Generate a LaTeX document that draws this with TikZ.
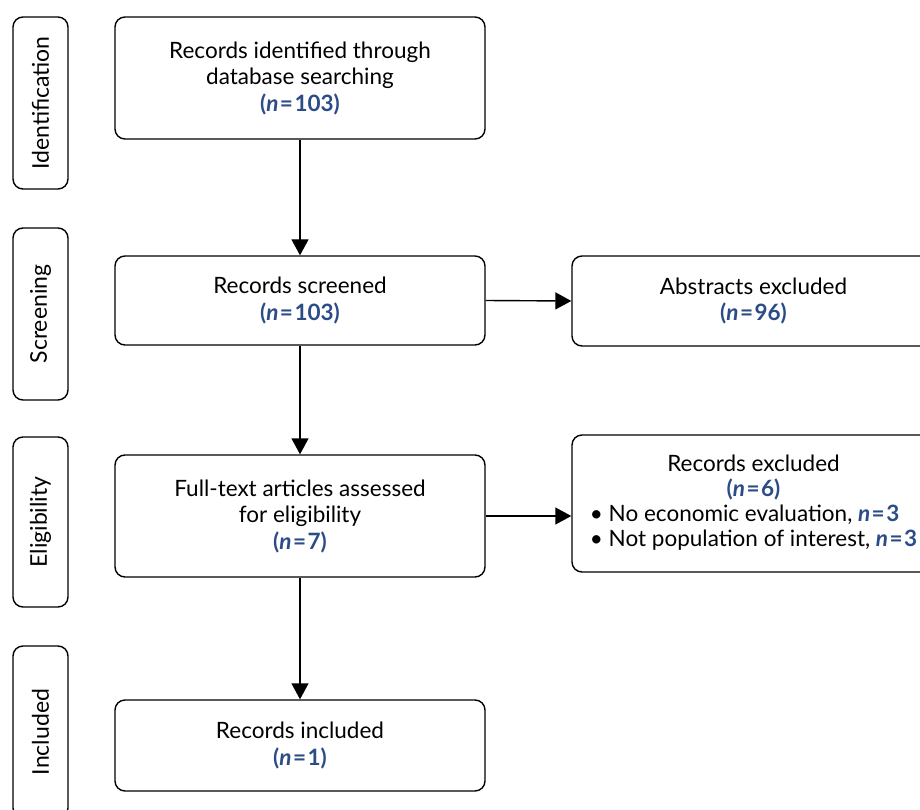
\documentclass[tikz,border=0pt]{standalone}
\usepackage{fontspec}
\setmainfont{Lato}
\usetikzlibrary{arrows.meta,positioning}

\definecolor{nblue}{HTML}{2B4C86}
\newcommand{\nval}[1]{\textcolor{nblue}{\bfseries(\textit{n}\kern1.5pt=\kern1.5pt#1)}}
\newcommand{\nbare}[1]{\textcolor{nblue}{\bfseries\textit{n}\kern1.5pt=\kern1.5pt#1}}

\tikzset{
  flowbox/.style={draw, line width=1.4pt, rounded corners=10pt, align=center,
    minimum width=370pt, font=\fontsize{22.5}{26.5}\selectfont, inner sep=0pt},
  sidebox/.style={draw, line width=1.4pt, rounded corners=10pt, minimum width=55pt,
    font=\fontsize{23}{26}\selectfont, inner sep=0pt},
  flowarrow/.style={line width=1.4pt, -{Triangle[width=17pt,length=16pt]}}
}

\begin{document}
\begin{tikzpicture}[x=1pt,y=-1pt]
  \useasboundingbox (0,0) rectangle (920,810);
  \clip (0,0) rectangle (920,810);

  % stage labels on the left
  \node[sidebox, minimum height=172pt] (ident) at (40.5,103)
    {\rotatebox{90}{Identification}};
  \node[sidebox, minimum height=172pt] (screen) at (40.5,314)
    {\rotatebox{90}{Screening}};
  \node[sidebox, minimum height=170pt] (elig) at (40.5,522)
    {\rotatebox{90}{Eligibility}};
  \node[sidebox, minimum height=172pt] (incl) at (40.5,732)
    {\rotatebox{90}{Included}};

  % main flow
  \node[flowbox, minimum height=122pt] (found) at (300,78)
    {Records identified through\\database searching\\\nval{103}};
  \node[flowbox, minimum height=89pt] (screened) at (300,300.5)
    {Records screened\\\nval{103}};
  \node[flowbox, minimum height=122pt] (assessed) at (300,516)
    {Full-text articles assessed\\for eligibility\\\nval{7}};
  \node[flowbox, minimum height=91pt] (included) at (300,745.5)
    {Records included\\\nval{1}};

  % exclusions
  \node[flowbox, minimum width=363pt, minimum height=90pt] (abstracts) at (753.5,301)
    {Abstracts excluded\\\nval{96}};
  \node[flowbox, minimum width=363pt, minimum height=137pt] (excluded) at (753.5,503.5)
    {\begin{tabular}{@{}l@{}}
      \multicolumn{1}{@{}c@{}}{Records excluded}\\[-1.5pt]
      \multicolumn{1}{@{}c@{}}{\nval{6}}\\[-1.5pt]
      \textbullet\ No economic evaluation, \nbare{3}\\[-1.5pt]
      \textbullet\ Not population of interest, \nbare{3}
    \end{tabular}};

  \draw[flowarrow] (found) -- (screened);
  \draw[flowarrow] (screened) -- (assessed);
  \draw[flowarrow] (assessed) -- (included);
  \draw[flowarrow] (screened.east) -- (abstracts.west);
  \draw[flowarrow] (assessed.east) -- (excluded.west |- assessed.east);
\end{tikzpicture}
\end{document}
